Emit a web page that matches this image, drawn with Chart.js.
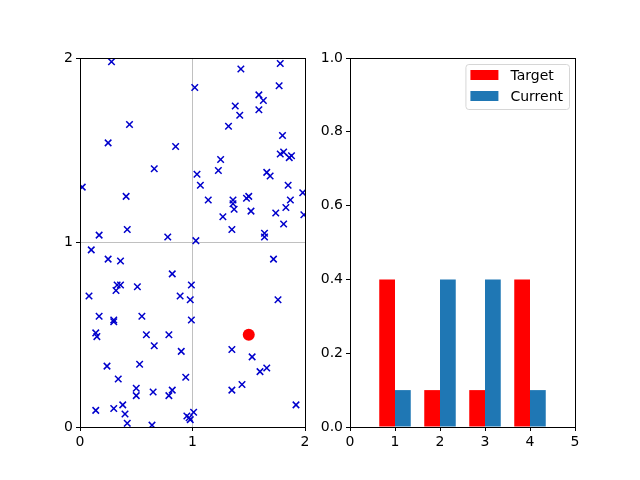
<!DOCTYPE html>
<html>
<head>
<meta charset="utf-8">
<script src="https://cdn.jsdelivr.net/npm/chart.js@4"></script>
<style>
  body { margin: 0; background: #fff; }
  #wrap { position: relative; width: 640px; height: 480px; }
  canvas { position: absolute; top: 0; }
</style>
</head>
<body>
<div id="wrap">
  <canvas id="left-chart" width="320" height="480" style="left:0"></canvas>
  <canvas id="right-chart" width="320" height="480" style="left:320px"></canvas>
</div>
<script>
// scatter samples (left panel)
const sampleX = [0.28, 1.02, 0.44, 0.25, 0.85, 0.66, 0.02, 0.41, 1.04, 0.17, 0.42, 0.78, 1.03,
    1.78, 1.43, 1.77, 1.59, 1.63, 1.38, 1.42, 1.59, 1.32, 1.80, 1.25, 1.23, 1.78, 1.81, 1.88, 1.86,
    1.66, 1.69, 1.07, 1.85, 1.14, 1.98, 1.36, 1.36, 1.37, 1.48, 1.50, 1.52, 1.87, 1.83, 1.74, 1.99,
    1.27, 1.81, 1.35, 1.64, 1.64,
    0.10, 0.25, 0.36, 0.82, 0.33, 0.36, 0.32, 0.51, 0.99, 0.08, 0.89, 0.98, 0.17, 0.30, 0.30, 0.55,
    0.99, 0.14, 0.15, 0.59, 0.79, 0.66, 0.90, 0.24, 0.53, 0.34, 0.94, 0.50, 0.50, 0.65, 0.82, 0.79,
    0.14, 0.30, 0.38, 0.40, 0.42, 0.64, 0.95, 1.01, 0.98, 0.97,
    1.72, 1.76, 1.35, 1.53, 1.60, 1.66, 1.44, 1.35, 1.92];
const sampleY = [1.98, 1.84, 1.64, 1.54, 1.52, 1.40, 1.30, 1.25, 1.37, 1.04, 1.07, 1.03, 1.01,
    1.97, 1.94, 1.85, 1.80, 1.77, 1.74, 1.69, 1.72, 1.63, 1.58, 1.45, 1.39, 1.48, 1.49, 1.47, 1.46,
    1.38, 1.36, 1.31, 1.31, 1.23, 1.27, 1.23, 1.21, 1.18, 1.24, 1.25, 1.17, 1.23, 1.19, 1.16, 1.15,
    1.14, 1.10, 1.07, 1.05, 1.03,
    0.96, 0.91, 0.90, 0.83, 0.77, 0.77, 0.74, 0.76, 0.77, 0.71, 0.71, 0.69, 0.60, 0.58, 0.57, 0.60,
    0.58, 0.51, 0.49, 0.50, 0.50, 0.44, 0.41, 0.33, 0.34, 0.26, 0.27, 0.21, 0.17, 0.19, 0.20, 0.17,
    0.09, 0.10, 0.12, 0.07, 0.02, 0.01, 0.06, 0.08, 0.04, 0.05,
    0.91, 0.69, 0.42, 0.38, 0.30, 0.32, 0.23, 0.20, 0.12];
const targetPoint = [1.5, 0.5];
const gridTicks = [0, 1, 2];

// bar panel (right)
const bins = [1, 2, 3, 4];
const targetShare = [0.4, 0.1, 0.1, 0.4];
const currentShare = [0.1, 0.4, 0.4, 0.1];
const binTicks = [0, 1, 2, 3, 4, 5];
const shareTicks = [0, 0.2, 0.4, 0.6, 0.8, 1.0];

const font = { family: 'DejaVu Sans', size: 14 };

// full black frame around the plot area, like matplotlib spines
const frame = {
    id: 'frame',
    afterDraw(chart) {
        const a = chart.chartArea, ctx = chart.ctx;
        ctx.save();
        ctx.strokeStyle = '#000';
        ctx.lineWidth = 1;
        ctx.strokeRect(Math.round(a.left) + 0.5, Math.round(a.top) + 0.5,
            Math.round(a.right - a.left), Math.round(a.bottom - a.top));
        ctx.restore();
    }
};

// legend drawn inside the upper right corner
const innerLegend = {
    id: 'innerLegend',
    afterDraw(chart) {
        const a = chart.chartArea, ctx = chart.ctx;
        const sets = chart.data.datasets;
        ctx.save();
        ctx.font = font.size + 'px ' + font.family;
        const textW = Math.max(...sets.map(d => ctx.measureText(d.label).width));
        const w = 5 + 28 + 12 + textW + 6, h = 45;
        const x = a.right - 6 - w, y = a.top + 6;
        ctx.beginPath();
        ctx.roundRect(x + 0.5, y + 0.5, w, h, 3);
        ctx.fillStyle = 'rgba(255,255,255,0.8)';
        ctx.fill();
        ctx.strokeStyle = '#d6d6d6';
        ctx.lineWidth = 1;
        ctx.stroke();
        ctx.textBaseline = 'middle';
        sets.forEach((d, i) => {
            const cy = y + 11 + i * 21;
            ctx.fillStyle = d.backgroundColor;
            ctx.fillRect(x + 5, cy - 5, 28, 10);
            ctx.fillStyle = '#000';
            ctx.fillText(d.label, x + 45, cy + 1);
        });
        ctx.restore();
    }
};

function axis(min, max, ticks, size, extra) {
    return Object.assign({
        type: 'linear', min: min, max: max,
        afterFit: s => { if (s.isHorizontal()) s.height = size; else s.width = size; },
        afterBuildTicks: s => { s.ticks = ticks.map(v => ({ value: v })); },
        border: { display: false },
        grid: { color: '#b0b0b0', lineWidth: 0.8, tickColor: '#000', tickWidth: 1, tickLength: 4 },
        ticks: { color: '#000', font: font, padding: 3 }
    }, extra);
}

new Chart(document.getElementById('left-chart'), {
    type: 'scatter',
    data: {
        datasets: [{
            data: sampleX.map((x, i) => ({ x: x, y: sampleY[i] })),
            pointStyle: 'crossRot',
            pointRadius: 4.6,
            borderColor: '#0000cc',
            borderWidth: 1.5,
            clip: 0
        }, {
            data: [{ x: targetPoint[0], y: targetPoint[1] }],
            pointStyle: 'circle',
            pointRadius: 6,
            backgroundColor: '#ff0000',
            borderColor: '#ff0000',
            borderWidth: 0
        }]
    },
    options: {
        responsive: false,
        animation: false,
        layout: { padding: { left: 40, right: 15, top: 58, bottom: 13 } },
        plugins: { legend: { display: false }, tooltip: { enabled: false } },
        scales: {
            x: axis(0, 2, gridTicks, 40),
            y: axis(0, 2, gridTicks, 40)
        }
    },
    plugins: [frame]
});

const noGrid = { drawOnChartArea: false, tickColor: '#000', tickWidth: 1, tickLength: 4 };

new Chart(document.getElementById('right-chart'), {
    type: 'bar',
    data: {
        datasets: [{
            label: 'Target',
            data: bins.map((b, i) => ({ x: b, y: targetShare[i] })),
            backgroundColor: '#ff0000'
        }, {
            label: 'Current',
            data: bins.map((b, i) => ({ x: b, y: currentShare[i] })),
            backgroundColor: '#1f77b4'
        }]
    },
    options: {
        responsive: false,
        animation: false,
        categoryPercentage: 0.7,
        barPercentage: 1.0,
        layout: { padding: { left: 0, right: 65, top: 58, bottom: 13 } },
        plugins: { legend: { display: false }, tooltip: { enabled: false } },
        scales: {
            x: axis(0, 5, binTicks, 40, { offset: false, grid: Object.assign({ offset: false }, noGrid) }),
            y: axis(0, 1, shareTicks, 30, {
                grid: noGrid,
                ticks: { color: '#000', font: font, padding: 3, callback: v => v.toFixed(1) }
            })
        }
    },
    plugins: [frame, innerLegend]
});
</script>
</body>
</html>
